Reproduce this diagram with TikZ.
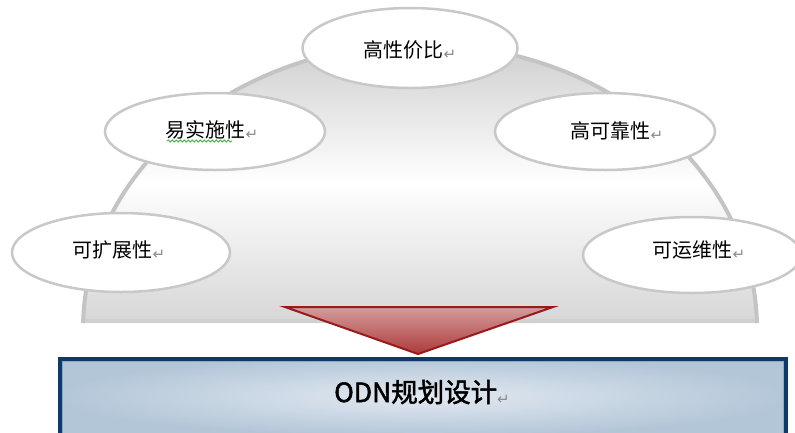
\documentclass[tikz,border=0pt]{standalone}
\usepackage{fontspec}
\newfontfamily\cjk{Noto Sans CJK SC}
\newfontfamily\cjkbig[FakeBold=2]{Noto Sans CJK SC}
\newfontfamily\symfont{DejaVu Sans}
\usetikzlibrary{shapes.geometric,decorations.pathmorphing}
\definecolor{rimgray}{HTML}{C4C4C4}
\definecolor{domeTop}{HTML}{CDCDCD}
\definecolor{domeBot}{HTML}{D6D6D6}
\definecolor{baseGray}{HTML}{D0D0D0}
\definecolor{ovalGray}{HTML}{C8C8C8}
\definecolor{retgray}{HTML}{8A8A8A}
\definecolor{triTop}{HTML}{D49C9C}
\definecolor{triBot}{HTML}{AE3A3A}
\definecolor{triEdge}{HTML}{981A1A}
\definecolor{boxIn}{HTML}{E2E9F1}
\definecolor{boxOut}{HTML}{B3C6D8}
\definecolor{navy}{HTML}{10396B}
\definecolor{navyHi}{HTML}{8FA8C4}
\definecolor{wavygreen}{HTML}{3FAE3F}
\newcommand\retmark{{\symfont\color{retgray}\fontsize{15}{15}\selectfont\raisebox{-2pt}{↵}}}
\begin{document}
\begin{tikzpicture}[x=1pt,y=-1pt,
  oval/.style={ellipse, draw=ovalGray, line width=2.5pt, fill=white, inner sep=0pt},
  lbl/.style={font=\cjk\fontsize{20}{22}\selectfont, inner sep=0pt, text=black},
  bigl/.style={font=\cjkbig\fontsize{26.5}{28}\selectfont, inner sep=0pt, text=black},
  wavy/.style={draw=wavygreen, line width=0.8pt, decorate, decoration={snake, amplitude=1.1pt, segment length=4pt}}]
\clip (0,0) rectangle (795,432);
\fill[white] (0,0) rectangle (795,432);
% dome
\shade[top color=domeTop, bottom color=domeBot, middle color=white]
  (83.1,323) arc[start angle=181.2, end angle=358.8, x radius=337, y radius=285] -- cycle;
\draw[baseGray, line width=4pt] (85,321) -- (755,321);
\draw[rimgray, line width=4pt]
  (83.1,323) arc[start angle=181.2, end angle=358.8, x radius=337, y radius=285];
% ovals
\node[oval, minimum width=215pt, minimum height=80pt] (e1) at (410,48) {};
\node[oval, minimum width=220pt, minimum height=77pt] (e2) at (215,131.5) {};
\node[oval, minimum width=220pt, minimum height=77pt] (e3) at (605,131.5) {};
\node[oval, minimum width=218pt, minimum height=79pt] (e4) at (121,252.5) {};
\node[oval, minimum width=218pt, minimum height=76pt] (e5) at (692,255) {};
\node[lbl] (t1) at (410,50) {高性价比\retmark};
\node[lbl] (t2) at (212,130) {易实施性\retmark};
\node[lbl] (t3) at (617,131) {高可靠性\retmark};
\node[lbl] (t4) at (119,250) {可扩展性\retmark};
\node[lbl] (t5) at (699,250) {可运维性\retmark};
\coordinate (w1) at (167,141);
\coordinate (w2) at (232,141);
\draw[wavy] (w1) -- (w2);
% bottom box
\shade[inner color=boxIn, outer color=boxOut] (58,357) rectangle (788,436);
\draw[navy, line width=4pt] (60,359) rectangle (786,450);
\draw[navyHi, line width=0.8pt] (62.5,361.5) rectangle (783.5,450);
\node[bigl] (odn) at (422,392) {ODN规划设计\retmark};
% arrow triangle
\shade[top color=triTop, bottom color=triBot] (285,307) -- (553,307) -- (418,354) -- cycle;
\draw[triEdge, line width=2pt, line join=miter] (285,307) -- (553,307) -- (418,354) -- cycle;
\end{tikzpicture}
\end{document}
